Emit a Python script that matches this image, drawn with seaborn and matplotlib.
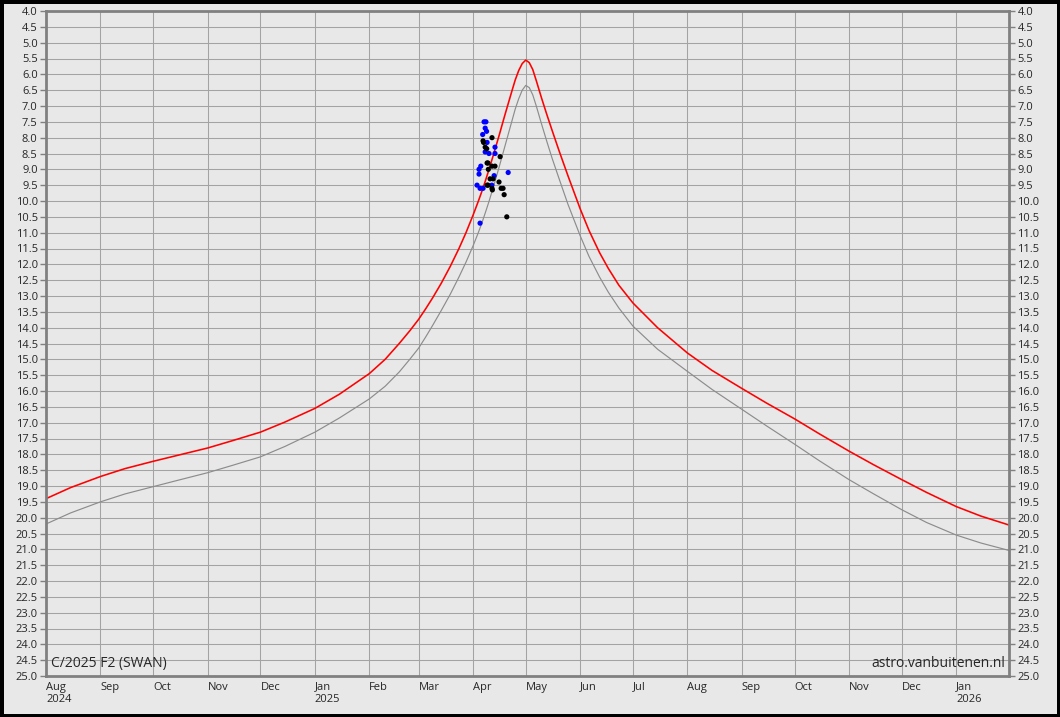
import pandas as pd
import numpy as np
import matplotlib
matplotlib.use('Agg')
import matplotlib.pyplot as plt
import matplotlib.dates as mdates
import seaborn as sns

# ========== Light curve of C/2025 F2 (SWAN) ==========
curve_dates = [
    '2024-08-01', '2024-08-15', '2024-09-01', '2024-09-15', '2024-10-01',
    '2024-10-15', '2024-11-01', '2024-11-15', '2024-12-01', '2024-12-15',
    '2025-01-01', '2025-01-15', '2025-02-01', '2025-02-10', '2025-02-18',
    '2025-02-24', '2025-03-01', '2025-03-05', '2025-03-09', '2025-03-14',
    '2025-03-19', '2025-03-24', '2025-03-28', '2025-04-01', '2025-04-04',
    '2025-04-06', '2025-04-08', '2025-04-10', '2025-04-13', '2025-04-16',
    '2025-04-19', '2025-04-21', '2025-04-23', '2025-04-25', '2025-04-27',
    '2025-04-29', '2025-05-01', '2025-05-03', '2025-05-05', '2025-05-07',
    '2025-05-10', '2025-05-13', '2025-05-16', '2025-05-20', '2025-05-25',
    '2025-06-01', '2025-06-06', '2025-06-12', '2025-06-17', '2025-06-23',
    '2025-07-01', '2025-07-15', '2025-08-01', '2025-08-15', '2025-09-01',
    '2025-09-15', '2025-10-01', '2025-10-15', '2025-11-01', '2025-11-15',
    '2025-12-01', '2025-12-15', '2026-01-01', '2026-01-15', '2026-02-01',
]
total_mag = [
    19.4, 19.05, 18.7, 18.45, 18.22,
    18.03, 17.8, 17.57, 17.3, 16.98,
    16.55, 16.1, 15.45, 15.0, 14.5,
    14.1, 13.74, 13.41, 13.06, 12.59,
    12.07, 11.5, 11.0, 10.45, 10.01,
    9.7, 9.37, 9.02, 8.47, 7.9,
    7.31, 6.93, 6.55, 6.18, 5.88,
    5.66, 5.55, 5.63, 5.85, 6.2,
    6.75, 7.27, 7.77, 8.42, 9.2,
    10.25, 10.93, 11.63, 12.13, 12.66,
    13.22, 14.0, 14.8, 15.35, 15.92,
    16.38, 16.88, 17.35, 17.9, 18.33,
    18.8, 19.2, 19.65, 19.95, 20.25,
]
nucleus_mag = [
    20.2, 19.85, 19.5, 19.25, 19.02,
    18.82, 18.58, 18.35, 18.08, 17.75,
    17.3, 16.85, 16.25, 15.85, 15.4,
    15.0, 14.65, 14.3, 13.93, 13.45,
    12.95, 12.4, 11.93, 11.42, 11.0,
    10.7, 10.37, 10.03, 9.48, 8.9,
    8.3, 7.9, 7.5, 7.1, 6.77,
    6.5, 6.35, 6.42, 6.65, 7.0,
    7.57, 8.12, 8.65, 9.3, 10.1,
    11.1, 11.75, 12.4, 12.88, 13.38,
    13.95, 14.68, 15.38, 15.95, 16.58,
    17.1, 17.68, 18.2, 18.8, 19.25,
    19.75, 20.15, 20.55, 20.8, 21.05,
]

# observations (blue and black dots)
blue_dates = [
    '2025-04-07 07:00', '2025-04-08 08:00', '2025-04-07 22:00', '2025-04-08 17:00',
    '2025-04-06 12:00', '2025-04-09 00:00', '2025-04-13 12:00', '2025-04-07 22:00',
    '2025-04-10 02:00', '2025-04-13 12:00', '2025-04-05 10:00', '2025-04-04 10:00',
    '2025-04-04 10:00', '2025-04-13 00:00', '2025-04-21 00:00', '2025-04-03 07:00',
    '2025-04-05 00:00', '2025-04-06 17:00', '2025-04-11 17:00', '2025-04-05 00:00',
]
blue_mag = [
    7.5, 7.5, 7.7, 7.8,
    7.9, 8.15, 8.3, 8.45,
    8.5, 8.5, 8.9, 9.0,
    9.15, 9.2, 9.1, 9.5,
    9.6, 9.6, 9.5, 10.7,
]
black_dates = [
    '2025-04-11 19:00', '2025-04-06 17:00', '2025-04-07 00:00', '2025-04-07 22:00',
    '2025-04-08 19:00', '2025-04-09 00:00', '2025-04-09 12:00', '2025-04-16 10:00',
    '2025-04-09 17:00', '2025-04-11 19:00', '2025-04-13 12:00', '2025-04-10 17:00',
    '2025-04-12 10:00', '2025-04-15 19:00', '2025-04-09 00:00', '2025-04-09 12:00',
    '2025-04-11 19:00', '2025-04-12 00:00', '2025-04-17 00:00', '2025-04-18 02:00',
    '2025-04-18 17:00', '2025-04-20 05:00',
]
black_mag = [
    8.0, 8.1, 8.15, 8.3,
    8.35, 8.8, 8.8, 8.6,
    9.0, 8.9, 8.9, 9.3,
    9.3, 9.4, 9.5, 9.5,
    9.6, 9.65, 9.6, 9.6,
    9.8, 10.5,
]

month_labels = ['Aug\n2024', 'Sep', 'Oct', 'Nov', 'Dec', 'Jan\n2025', 'Feb', 'Mar',
                'Apr', 'May', 'Jun', 'Jul', 'Aug', 'Sep', 'Oct', 'Nov', 'Dec', 'Jan\n2026']

BG = '#e8e8e8'

sns.set_style('whitegrid', {'axes.facecolor': BG, 'grid.color': '#a3a3a3',
                            'axes.edgecolor': '#808080'})
plt.rcParams['font.family'] = ['Open Sans', 'DejaVu Sans']

curves = pd.DataFrame({'date': pd.to_datetime(curve_dates),
                       'total': total_mag, 'nucleus': nucleus_mag})
blue = pd.DataFrame({'date': pd.to_datetime(blue_dates), 'mag': blue_mag})
black = pd.DataFrame({'date': pd.to_datetime(black_dates), 'mag': black_mag})

fig = plt.figure(figsize=(10.6, 7.17), dpi=100, facecolor=BG,
                 edgecolor='black', linewidth=5)
ax = fig.add_axes([46 / 1060, 1 - 676 / 717, 963 / 1060, 665 / 717])

sns.lineplot(data=curves, x='date', y='nucleus', color='#8c8c8c', lw=0.85, ax=ax)
sns.lineplot(data=curves, x='date', y='total', color='#ff0000', lw=1.15, ax=ax)
sns.scatterplot(data=blue, x='date', y='mag', color='#0000ff', s=14,
                edgecolor='none', ax=ax, zorder=3)
sns.scatterplot(data=black, x='date', y='mag', color='black', s=14,
                edgecolor='none', ax=ax, zorder=4)

ax.set_xlim(pd.Timestamp('2024-08-01'), pd.Timestamp('2026-01-31'))
ax.set_ylim(25, 4)
ax.set_yticks(np.arange(4, 25.01, 0.5))
ax.yaxis.set_major_formatter('{x:.1f}')
ax.xaxis.set_major_locator(mdates.MonthLocator())
ax.set_xticks(ax.get_xticks())
ax.set_xticklabels(month_labels, ha='left', va='top')
ax.set_xlabel('')
ax.set_ylabel('')

ax.grid(True, color='#a3a3a3', lw=0.75)
for s in ax.spines.values():
    s.set_color('#808080')
    s.set_linewidth(2)

ax.tick_params(axis='y', left=True, right=True, labelleft=True, labelright=True,
               length=4, width=1, color='#808080', labelsize=8, pad=2)
ax.tick_params(axis='x', length=0, labelsize=8, pad=4)

ax.text(0.005, 0.008, 'C/2025 F2 (SWAN)', transform=ax.transAxes,
        fontsize=10, ha='left', va='bottom')
ax.text(0.996, 0.008, 'astro.vanbuitenen.nl', transform=ax.transAxes,
        fontsize=10, ha='right', va='bottom')

fig.savefig('out.png', dpi=100, facecolor=fig.get_facecolor(),
            edgecolor=fig.get_edgecolor())
